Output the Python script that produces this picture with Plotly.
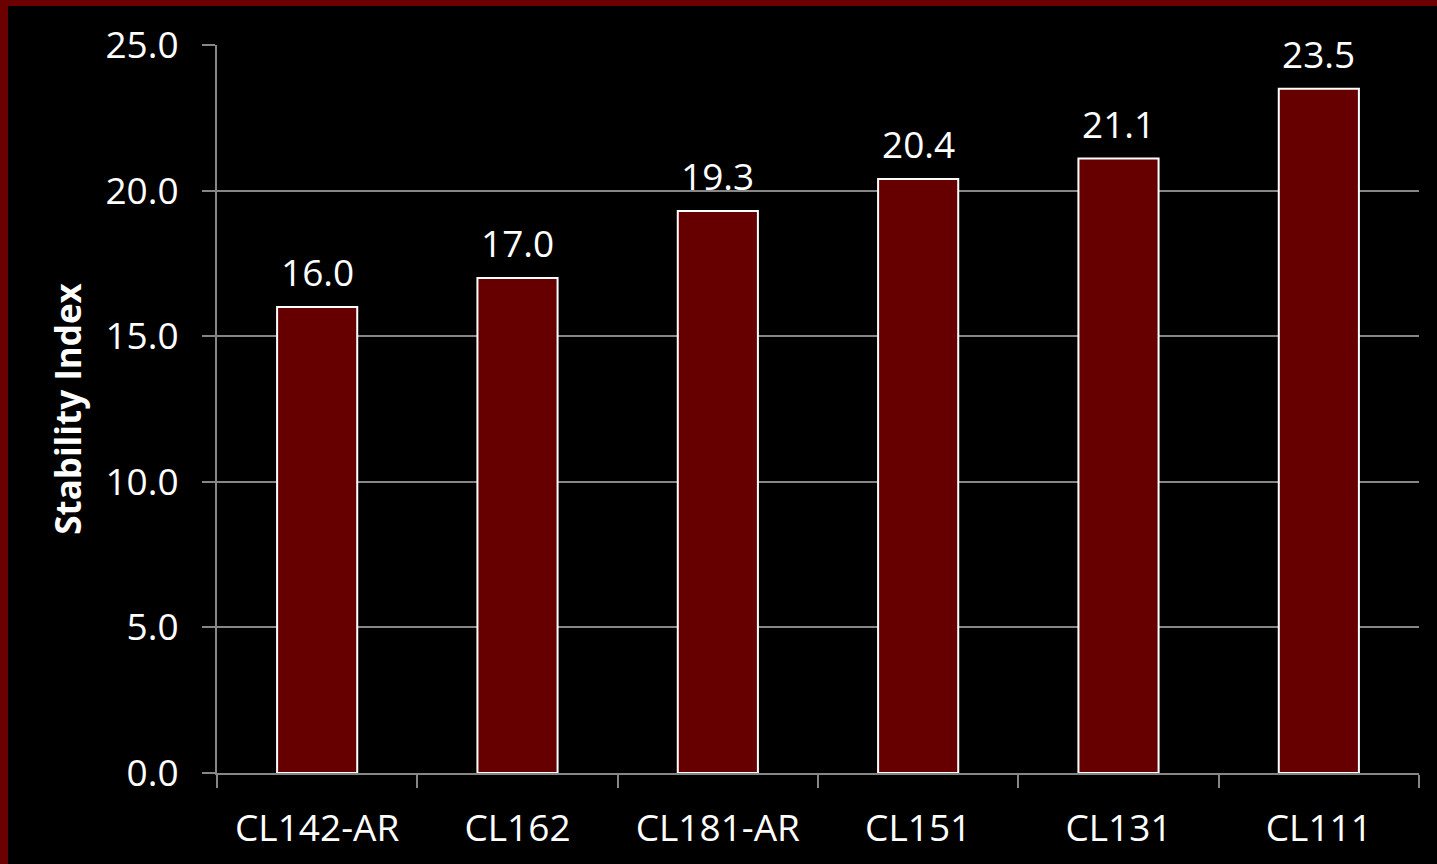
import plotly.graph_objects as go

# Stability index per compound
compounds = ["CL142-AR", "CL162", "CL181-AR", "CL151", "CL131", "CL111"]
stability = [16.0, 17.0, 19.3, 20.4, 21.1, 23.5]

W, H = 1437, 864
L, R, T, B = 217, 18, 45, 91
pw = W - L - R
ph = H - T - B

fig = go.Figure()
fig.add_trace(go.Bar(
    x=compounds,
    y=stability,
    marker=dict(color="#660000", line=dict(color="white", width=2)),
    width=0.4,
))

# value labels sit a little above each bar
for c, v in zip(compounds, stability):
    fig.add_annotation(x=c, y=v, text=f"{v:.1f}", showarrow=False,
                       yanchor="bottom", yshift=8,
                       font=dict(color="white", size=37, family="Open Sans"))

# dark red frame along the top and left edges of the slide
fig.add_shape(type="rect", xref="paper", yref="paper",
              x0=-L / pw, x1=(8 - L) / pw, y0=-B / ph, y1=1 + T / ph,
              fillcolor="#6b0000", line_width=0, layer="below")
fig.add_shape(type="rect", xref="paper", yref="paper",
              x0=-L / pw, x1=1 + R / pw, y0=1 + (T - 6) / ph, y1=1 + T / ph,
              fillcolor="#6b0000", line_width=0, layer="below")

fig.update_layout(
    width=W, height=H,
    margin=dict(l=L, r=R, t=T, b=B),
    paper_bgcolor="black",
    plot_bgcolor="black",
    font=dict(family="Open Sans", color="white", size=37),
    showlegend=False,
    bargap=0.6,
)
fig.update_xaxes(
    showline=True, linecolor="#868686", linewidth=2,
    ticks="outside", tickson="boundaries", ticklen=13, tickcolor="#868686", tickwidth=2,
    showgrid=False,
    tickfont=dict(size=37, color="white"),
    ticklabelstandoff=22,
)
fig.update_yaxes(
    range=[0, 25], dtick=5, tickformat=".1f",
    showline=True, linecolor="#868686", linewidth=2,
    ticks="outside", ticklen=13, tickcolor="#868686", tickwidth=2,
    showgrid=True, gridcolor="#868686", gridwidth=1.5,
    zeroline=False,
    tickfont=dict(size=37, color="white"),
    ticklabelstandoff=16,
    title=dict(text="<b>Stability Index</b>", font=dict(size=35, color="white"), standoff=13),
)

fig.write_html("out.html", config={"displayModeBar": False},
               post_script="document.body.style.margin='0px';")
